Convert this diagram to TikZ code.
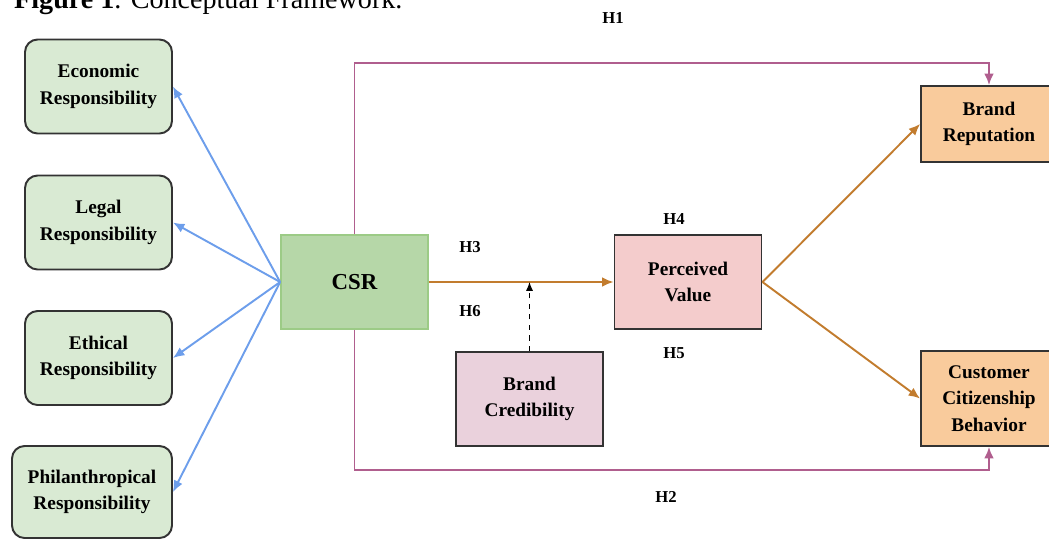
\documentclass[tikz,border=0pt]{standalone}
\usepackage{fontspec}
\setmainfont{Liberation Serif}
\usepackage{tikz}
\usetikzlibrary{positioning, arrows.meta}

\definecolor{dimgreen}{HTML}{D9EAD3}
\definecolor{csrgreen}{HTML}{B6D7A8}
\definecolor{csrline}{HTML}{9CCB86}
\definecolor{pvpink}{HTML}{F4CCCC}
\definecolor{bcpink}{HTML}{EAD1DC}
\definecolor{outpeach}{HTML}{F9CB9C}
\definecolor{dimblue}{HTML}{6D9EEB}
\definecolor{hplum}{HTML}{B05E8E}
\definecolor{hbrown}{HTML}{C27C2E}
\definecolor{edge}{HTML}{333333}

\begin{document}
\begin{tikzpicture}[x=0.02cm, y=-0.02cm,
    every node/.style={font=\bfseries\fontsize{11}{15}\selectfont, align=center},
    dimbox/.style={draw=edge, line width=1.1pt, fill=dimgreen, rounded corners=0.25cm, minimum width=2.94cm, minimum height=1.88cm},
    varbox/.style={draw=edge, line width=1.1pt, minimum width=2.94cm, minimum height=1.88cm},
    hlab/.style={font=\bfseries\fontsize{9.5}{11}\selectfont},
    toblue/.style={draw=dimblue, line width=1.1pt, -{Latex[length=6.5pt,width=5.5pt]}},
    tobrown/.style={draw=hbrown, line width=1.1pt, -{Latex[length=6.5pt,width=5.5pt]}},
    toplum/.style={draw=hplum, line width=1.1pt, -{Latex[length=6.5pt,width=5.5pt]}}]
    \useasboundingbox (0,0) rectangle (1049,539);

    % titel (oben abgeschnitten)
    \node[anchor=base west, font=\fontsize{16}{18}\selectfont] (title) at (8,8) {\textbf{Figure 1}. Conceptual Framework.};

    % Dimensionen von CSR
    \node[dimbox] (eco) at (98.5,86.5) {Economic\\Responsibility};
    \node[dimbox] (leg) at (98.5,222.5) {Legal\\Responsibility};
    \node[dimbox] (eth) at (98.5,358) {Ethical\\Responsibility};
    \node[dimbox, minimum width=3.2cm, minimum height=1.84cm] (phi) at (92,492) {Philanthropical\\Responsibility};

    \node[draw=csrline, line width=1pt, fill=csrgreen, minimum width=2.94cm, minimum height=1.88cm, font=\bfseries\fontsize{13}{15}\selectfont] (csr) at (354.5,282) {CSR};

    \node[varbox, fill=pvpink] (pv) at (688,282) {Perceived\\Value};
    \node[varbox, fill=bcpink] (bc) at (529.5,399) {Brand\\Credibility};

    \node[varbox, fill=outpeach, minimum width=2.72cm, minimum height=1.52cm] (br) at (989,124) {Brand\\Reputation};
    \node[varbox, fill=outpeach, minimum width=2.72cm, minimum height=1.9cm] (ccb) at (989,398.5) {Customer\\Citizenship\\Behavior};

    \coordinate (h1top) at (354.5,63);
    \coordinate (h2bot) at (354.5,470);

    \foreach \d in {eco,leg,eth,phi}
        \draw[toblue] (csr.west) -- (\d.east);

    \draw[toplum] (csr.north) -- (h1top) -| (br.north);
    \draw[toplum] (csr.south) -- (h2bot) -| (ccb.south);

    \draw[tobrown] (csr.east) -- (pv.west);
    \draw[tobrown] (pv.east) -- (br.west);
    \draw[tobrown] (pv.east) -- (ccb.west);
    \draw[dashed, line width=0.6pt, -{Latex[length=5pt,width=4pt]}] (bc.north) -- (bc.north |- csr.east);

    \node[hlab] (h1) at (613,18) {H1};
    \node[hlab] (h2) at (666,497) {H2};
    \node[hlab] (h3) at (470,247) {H3};
    \node[hlab] (h6) at (470,311) {H6};
    \node[hlab] (h4) at (674,219) {H4};
    \node[hlab] (h5) at (674,353) {H5};
\end{tikzpicture}
\end{document}
